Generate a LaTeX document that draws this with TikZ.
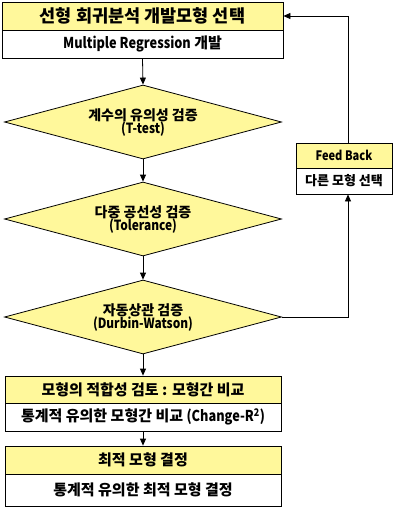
\documentclass[tikz,border=0pt]{standalone}
\usepackage{fontspec}
\setmainfont{Noto Sans CJK KR}
\newfontfamily\latf{Noto Sans CJK KR}[FakeStretch=0.85]
\usetikzlibrary{shapes.geometric,arrows.meta}
\definecolor{pyellow}{RGB}{255,248,155}
\begin{document}
\begin{tikzpicture}[x=1pt,y=-1pt,
  base/.style={draw=black, line width=0.8pt, inner sep=0pt, align=center},
  ybox/.style={base, fill=pyellow, font=\bfseries\fontsize{15}{15}\selectfont},
  wbox/.style={base, fill=white, font=\bfseries\fontsize{15}{15}\selectfont},
  dia/.style={base, diamond, aspect=3.74, fill=pyellow, minimum width=277pt, minimum height=74pt},
  dtxt/.style={inner sep=0pt, font=\bfseries\fontsize{14}{14}\selectfont},
  arr/.style={-{Triangle[length=7pt,width=6pt]}, line width=0.8pt}
]
\path[use as bounding box] (0,0) rectangle (402,508);

% top box
\node[ybox, minimum width=281pt, minimum height=28pt, font=\bfseries\fontsize{17.5}{17.5}\selectfont]
  (t1) at (142.5,16) {선형 회귀분석 개발모형 선택};
\node[wbox, minimum width=281pt, minimum height=28pt] (t1b) at (142.5,44) {{\latf Multiple Regression} 개발};

% diamonds
\node[dia] (d1) at (143,122) {};
\node[dtxt] (d1a) at (143,115) {계수의 유의성 검증};
\node[dtxt] (d1b) at (143,129) {\latf (T-test)};
\node[dia] (d2) at (143,219) {};
\node[dtxt] (d2a) at (143,212) {다중 공선성 검증};
\node[dtxt] (d2b) at (143,226) {\latf (Tolerance)};
\node[dia] (d3) at (143,317) {};
\node[dtxt] (d3a) at (143,310) {자동상관 검증};
\node[dtxt] (d3b) at (143,324) {\latf (Durbin-Watson)};

% box 4
\node[ybox, minimum width=276pt, minimum height=27pt] (b4) at (143,389.5) {모형의 적합성 검토 : 모형간 비교};
\node[wbox, minimum width=276pt, minimum height=28pt] (b4b) at (143,417) {통계적 유의한 모형간 비교 {\latf (Change-R\textsuperscript{2})}};

% box 5
\node[ybox, minimum width=276pt, minimum height=28pt] (b5) at (143,460) {최적 모형 결정};
\node[wbox, minimum width=276pt, minimum height=32pt] (b5b) at (143,490) {통계적 유의한 최적 모형 결정};

% feedback box
\node[ybox, minimum width=96pt, minimum height=25pt, font=\bfseries\fontsize{13}{13}\selectfont]
  (fb) at (344,155.5) {{\latf Feed Back}};
\node[wbox, minimum width=96pt, minimum height=26pt, font=\bfseries\fontsize{13}{13}\selectfont]
  (fbb) at (344,181) {다른 모형 선택};

\coordinate (fx) at (348,0);

% connectors
\draw[arr] (t1b.south) -- (d1.north);
\draw[arr] (d1.south) -- (d2.north);
\draw[arr] (d2.south) -- (d3.north);
\draw[arr] (d3.south) -- (b4.north);
\draw[arr] (b4b.south) -- (b5.north);
\draw[arr] (d3.east) -| (fx |- fbb.south);
\draw[arr] (fx |- fb.north) |- (t1.east);
\end{tikzpicture}
\end{document}
